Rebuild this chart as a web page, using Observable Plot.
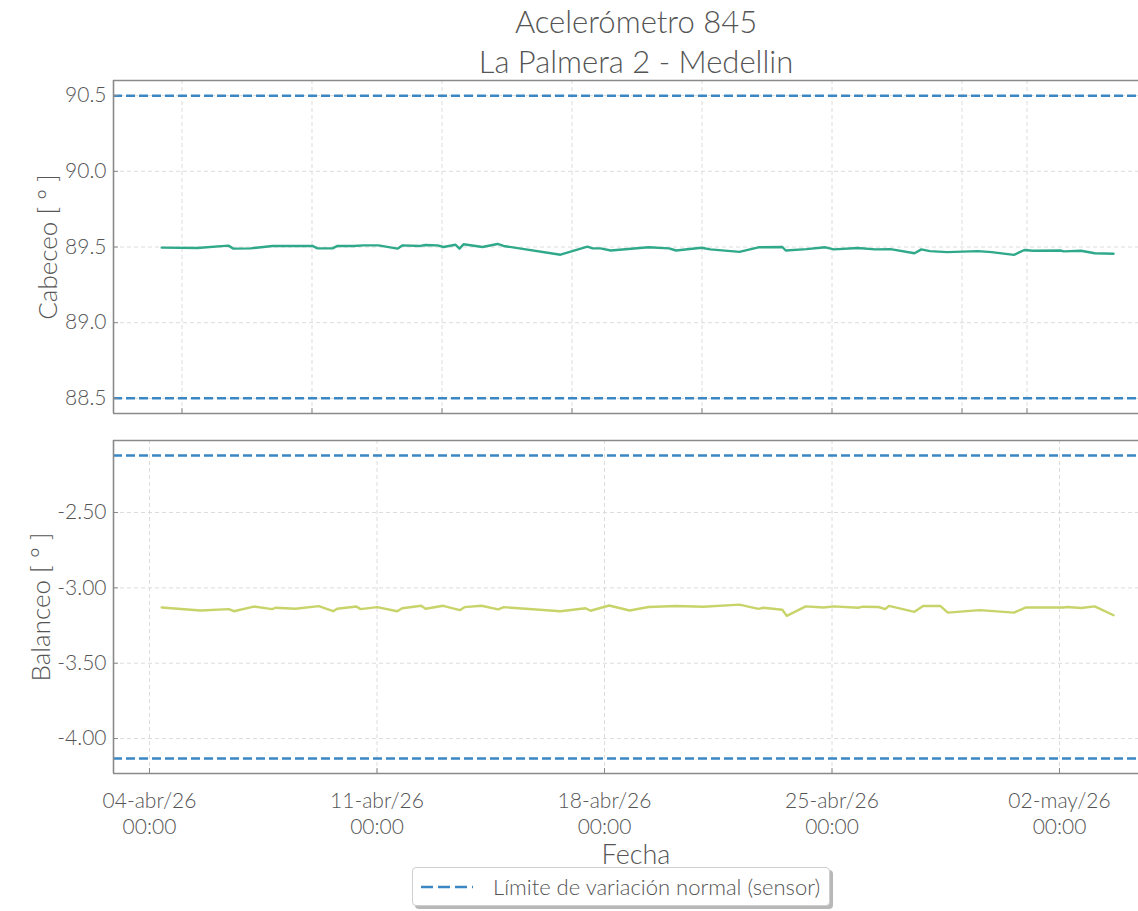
<!DOCTYPE html>
<html>
<head>
<meta charset="utf-8">
<script src="https://cdn.jsdelivr.net/npm/d3@7"></script>
<script src="https://cdn.jsdelivr.net/npm/@observablehq/plot@0.6"></script>
<style>
  html, body { margin: 0; padding: 0; background: #fff; }
  #wrap { position: relative; width: 1138px; height: 911px; overflow: hidden; font-family: Lato, "Open Sans", sans-serif; font-weight: 300; color: #555; }
  .abs { position: absolute; }
  #title { left: 336px; width: 600px; top: 1px; text-align: center; font-size: 31px; line-height: 40px; }
  .ylab { font-size: 26px; white-space: nowrap; transform: translate(-50%, -50%) rotate(-90deg); }
  #xlab { font-size: 27px; transform: translate(-50%, -50%); }
  #legend { left: 412px; top: 867px; width: 416px; height: 37px; border: 1px solid #cfcfcf; border-radius: 4px; background: #fff; box-shadow: 3px 3px 0 #b8b8b8; display: flex; align-items: center; font-size: 22px; }
  #legend svg { margin-left: 6px; margin-right: 18px; }
</style>
</head>
<body>
<div id="wrap">
  <div id="title" class="abs">Acelerómetro 845<br>La Palmera 2 - Medellin</div>
  <div id="panelTop" class="abs" style="left:0;top:0"></div>
  <div id="panelBottom" class="abs" style="left:0;top:420px"></div>
  <div class="abs ylab" style="left:47px;top:247px">Cabeceo [ ° ]</div>
  <div class="abs ylab" style="left:40px;top:607px">Balanceo [ ° ]</div>
  <div id="xlab" class="abs" style="left:636px;top:853px">Fecha</div>
  <div id="legend" class="abs">
    <svg width="56" height="10"><line x1="2" y1="5" x2="54" y2="5" stroke="#3a87c4" stroke-width="2.5" stroke-dasharray="12,5"></line></svg>
    <span>Límite de variación normal (sensor)</span>
  </div>
</div>
<script>
// ---------- Data ----------
const cabeceoFechas = [
  "2026-04-04 09:00","2026-04-05 11:10","2026-04-06 10:20","2026-04-06 14:00","2026-04-07 02:35",
  "2026-04-07 18:50","2026-04-09 00:20","2026-04-09 04:00","2026-04-09 15:10","2026-04-09 18:50",
  "2026-04-10 06:40","2026-04-10 14:00","2026-04-11 01:05","2026-04-11 15:10","2026-04-11 18:50",
  "2026-04-12 08:05","2026-04-12 11:50","2026-04-12 20:40","2026-04-13 01:05","2026-04-13 10:00",
  "2026-04-13 12:55","2026-04-13 15:55","2026-04-14 05:55","2026-04-14 17:00","2026-04-14 21:25",
  "2026-04-16 15:30","2026-04-17 11:25","2026-04-17 15:10","2026-04-17 21:00","2026-04-18 04:40",
  "2026-04-19 08:30","2026-04-19 23:40","2026-04-20 04:50","2026-04-20 23:40","2026-04-21 06:05",
  "2026-04-22 03:40","2026-04-22 17:40","2026-04-23 11:20","2026-04-23 13:50","2026-04-24 05:10",
  "2026-04-24 19:05","2026-04-25 01:25","2026-04-25 19:10","2026-04-26 07:45","2026-04-26 19:10",
  "2026-04-27 12:55","2026-04-27 18:00","2026-04-28 00:15","2026-04-28 13:00","2026-04-29 11:50",
  "2026-04-29 21:55","2026-04-30 14:25","2026-04-30 22:00","2026-05-01 04:20","2026-05-02 00:40",
  "2026-05-02 03:10","2026-05-02 15:50","2026-05-03 02:00","2026-05-03 15:55"
];
const cabeceoValores = [
  89.496, 89.493, 89.509, 89.489, 89.491,
  89.507, 89.507, 89.491, 89.491, 89.507,
  89.507, 89.511, 89.511, 89.489, 89.511,
  89.507, 89.513, 89.511, 89.500, 89.515,
  89.489, 89.518, 89.500, 89.520, 89.507,
  89.449, 89.502, 89.491, 89.491, 89.477,
  89.498, 89.491, 89.477, 89.495, 89.484,
  89.468, 89.498, 89.500, 89.477, 89.486,
  89.498, 89.484, 89.493, 89.484, 89.486,
  89.459, 89.484, 89.473, 89.466, 89.473,
  89.466, 89.448, 89.480, 89.475, 89.477,
  89.471, 89.475, 89.459, 89.455
];
const balanceoFechas = [
  "2026-04-04 09:00","2026-04-05 13:40","2026-04-06 10:35","2026-04-06 14:15","2026-04-07 05:00",
  "2026-04-07 18:35","2026-04-07 21:05","2026-04-08 11:50","2026-04-09 05:00","2026-04-09 15:40",
  "2026-04-09 18:35","2026-04-10 08:50","2026-04-10 11:50","2026-04-11 00:10","2026-04-11 14:55",
  "2026-04-11 18:35","2026-04-12 08:40","2026-04-12 11:50","2026-04-13 00:55","2026-04-13 13:10",
  "2026-04-13 16:35","2026-04-14 05:10","2026-04-14 17:30","2026-04-14 21:40","2026-04-16 15:30",
  "2026-04-17 10:00","2026-04-17 13:40","2026-04-18 03:25","2026-04-18 18:35","2026-04-19 08:30",
  "2026-04-20 04:50","2026-04-21 01:05","2026-04-22 03:40","2026-04-22 17:40","2026-04-22 21:25",
  "2026-04-23 11:20","2026-04-23 14:35","2026-04-24 04:35","2026-04-24 17:45","2026-04-25 01:25",
  "2026-04-25 19:10","2026-04-25 22:55","2026-04-26 10:20","2026-04-26 15:20","2026-04-26 18:00",
  "2026-04-27 12:55","2026-04-27 19:15","2026-04-28 07:55","2026-04-28 13:30","2026-04-29 13:05",
  "2026-04-30 14:25","2026-04-30 23:15","2026-05-02 03:10","2026-05-02 05:40","2026-05-02 15:50",
  "2026-05-03 02:00","2026-05-03 15:55"
];
const balanceoValores = [
  -3.130, -3.150, -3.141, -3.155, -3.124,
  -3.141, -3.132, -3.139, -3.121, -3.155,
  -3.139, -3.124, -3.141, -3.128, -3.155,
  -3.135, -3.119, -3.139, -3.119, -3.148,
  -3.128, -3.119, -3.143, -3.128, -3.155,
  -3.135, -3.152, -3.117, -3.150, -3.127,
  -3.120, -3.125, -3.111, -3.139, -3.132,
  -3.145, -3.186, -3.123, -3.130, -3.123,
  -3.132, -3.125, -3.127, -3.141, -3.120,
  -3.159, -3.120, -3.120, -3.164, -3.148,
  -3.164, -3.130, -3.130, -3.127, -3.134,
  -3.123, -3.182
];
const limitesCabeceo = [88.5, 90.5];
const limitesBalanceo = [-4.132, -2.122];
const dominioCabeceo = [88.4, 90.6];
const dominioBalanceo = [-4.232, -2.022];
const ticksYCabeceo = [88.5, 89.0, 89.5, 90.0, 90.5];
const ticksYBalanceo = [-4.0, -3.5, -3.0, -2.5];
const ticksXCabeceo = ["2026-04-05 00:00","2026-04-09 00:00","2026-04-13 00:00","2026-04-17 00:00","2026-04-21 00:00","2026-04-25 00:00","2026-04-29 00:00","2026-05-01 00:00"];
const ticksXBalanceo = ["2026-04-04 00:00","2026-04-11 00:00","2026-04-18 00:00","2026-04-25 00:00","2026-05-02 00:00"];
const dominioFechas = ["2026-04-02 21:25","2026-05-04 10:20"];
const meses = ["ene","feb","mar","abr","may","jun","jul","ago","sep","oct","nov","dic"];

// ---------- Build ----------
const parse = d3.timeParse("%Y-%m-%d %H:%M");
const serieCab = cabeceoFechas.map((f, i) => ({fecha: parse(f), valor: cabeceoValores[i]}));
const serieBal = balanceoFechas.map((f, i) => ({fecha: parse(f), valor: balanceoValores[i]}));
const xDom = dominioFechas.map(parse);
const tCab = ticksXCabeceo.map(parse);
const tBal = ticksXBalanceo.map(parse);
const fmtX = d => `${d3.timeFormat("%d")(d)}-${meses[d.getMonth()]}/${d3.timeFormat("%y")(d)}\n${d3.timeFormat("%H:%M")(d)}`;

const gridStyle = {stroke: "#dcdcdc", strokeWidth: 1, strokeDasharray: "4,3"};
const frameStyle = {stroke: "#8a8a8a", strokeWidth: 1.6};
const limStyle = {stroke: "#3a87c4", strokeWidth: 2.5, strokeDasharray: "9,4"};
const baseStyle = {fontFamily: "Lato, 'Open Sans', sans-serif", fontWeight: 300, fontSize: "21px", color: "#555", background: "transparent", overflow: "visible"};

const chartCab = Plot.plot({
  width: 1138, height: 420,
  marginTop: 80, marginBottom: 7, marginLeft: 113, marginRight: 0,
  style: baseStyle,
  x: {type: "time", domain: xDom},
  y: {domain: dominioCabeceo},
  marks: [
    Plot.ruleX(tCab, gridStyle),
    Plot.ruleY(ticksYCabeceo, gridStyle),
    Plot.ruleY(limitesCabeceo, limStyle),
    Plot.line(serieCab, {x: "fecha", y: "valor", stroke: "#2fa98a", strokeWidth: 2.4}),
    Plot.ruleX([xDom[0]], frameStyle),
    Plot.ruleY(dominioCabeceo, frameStyle),
    Plot.axisY({ticks: ticksYCabeceo, tickFormat: d => d.toFixed(1), tickSize: -5, tickPadding: 12, stroke: "#8a8a8a", label: null}),
    Plot.axisX({ticks: tCab, tickFormat: () => "", tickSize: -5, stroke: "#8a8a8a", label: null})
  ]
});
document.getElementById("panelTop").append(chartCab);

const chartBal = Plot.plot({
  width: 1138, height: 453,
  marginTop: 20, marginBottom: 100, marginLeft: 113, marginRight: 0,
  style: baseStyle,
  x: {type: "time", domain: xDom},
  y: {domain: dominioBalanceo},
  marks: [
    Plot.ruleX(tBal, gridStyle),
    Plot.ruleY(ticksYBalanceo, gridStyle),
    Plot.ruleY(limitesBalanceo, limStyle),
    Plot.line(serieBal, {x: "fecha", y: "valor", stroke: "#c8d46a", strokeWidth: 2.4}),
    Plot.ruleX([xDom[0]], frameStyle),
    Plot.ruleY(dominioBalanceo, frameStyle),
    Plot.axisY({ticks: ticksYBalanceo, tickFormat: d => d.toFixed(2), tickSize: -5, tickPadding: 12, stroke: "#8a8a8a", label: null}),
    Plot.axisX({ticks: tBal, tickFormat: fmtX, tickSize: -5, tickPadding: 22, stroke: "#8a8a8a", label: null, lineHeight: 1.2})
  ]
});
document.getElementById("panelBottom").append(chartBal);
</script>
</body>
</html>
